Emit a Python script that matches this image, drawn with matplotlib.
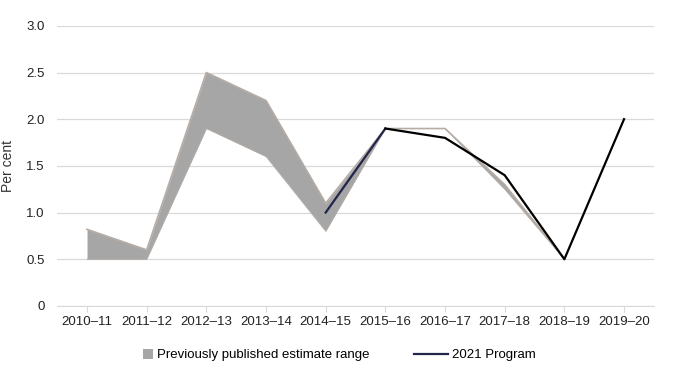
import numpy as np
import matplotlib
matplotlib.use('Agg')
import matplotlib.pyplot as plt
from matplotlib.patches import Patch, Rectangle
from matplotlib.lines import Line2D
from matplotlib.legend_handler import HandlerPatch

plt.rcParams['font.family'] = ['Liberation Sans', 'DejaVu Sans']

years = ['2010–11', '2011–12', '2012–13', '2013–14', '2014–15',
         '2015–16', '2016–17', '2017–18', '2018–19', '2019–20']
range_low = [0.5, 0.5, 1.9, 1.6, 0.8, 1.9, 1.9, 1.25, 0.5, np.nan]
range_high = [0.82, 0.6, 2.5, 2.2, 1.1, 1.9, 1.9, 1.3, 0.5, np.nan]
program = [np.nan, np.nan, np.nan, np.nan, 1.0, 1.9, 1.8, 1.4, 0.5, 2.0]

x = np.arange(len(years))
band = '#a6a6a6'
navy = '#22264a'


class SmallSquare(HandlerPatch):
    # small square sitting at the right end of the handle box
    def create_artists(self, legend, orig_handle, xdescent, ydescent,
                       width, height, fontsize, trans):
        s = 7
        r = Rectangle((width - xdescent - s, height / 2 - ydescent - s / 2), s, s,
                      facecolor=orig_handle.get_facecolor(), edgecolor='none',
                      transform=trans)
        return [r]


fig = plt.figure(figsize=(6.89, 3.80), dpi=100)
ax = fig.add_axes([0.083, 0.195, 0.866, 0.737])

ax.fill_between(x, range_low, range_high, color=band, lw=0)
ax.plot(x, range_high, color='#b5aca6', lw=1.2)
ax.plot(x, range_low, color='#b5aca6', lw=0.6)
ax.plot(x[4:6], program[4:6], color=navy, lw=1.6)
ax.plot(x[5:], program[5:], color='black', lw=1.6)

ax.set_xlim(-0.5, len(years) - 0.5)
ax.set_ylim(0, 3)
ax.set_yticks([0, 0.5, 1.0, 1.5, 2.0, 2.5, 3.0])
ax.set_yticklabels(['0', '0.5', '1.0', '1.5', '2.0', '2.5', '3.0'])
ax.set_xticks(x)
ax.set_xticklabels(years)
ax.yaxis.grid(True, color='#d9d9d9', lw=0.9)
ax.set_axisbelow(True)
for s in ['top', 'right', 'left']:
    ax.spines[s].set_visible(False)
ax.spines['bottom'].set_color('#d9d9d9')
ax.tick_params(axis='y', length=0, labelsize=9.5, colors='#222222', pad=9)
ax.tick_params(axis='x', length=4, color='#d9d9d9', labelsize=9.5, colors='#222222', pad=3)
ax.set_ylabel('Per cent', fontsize=10, color='#333333')
ax.yaxis.set_label_coords(-0.07, 0.5)

handles = [Patch(facecolor=band, edgecolor='none'),
           Line2D([0], [0], color=navy, lw=1.6)]
fig.legend(handles, ['Previously published estimate range', '2021 Program'],
           loc='center', bbox_to_anchor=(0.475, 0.065), ncol=2, frameon=False,
           fontsize=9.5, handlelength=2.6, handleheight=0.7, columnspacing=3.4,
           handletextpad=0.3, handler_map={Patch: SmallSquare()})

fig.savefig('out.png', dpi=100)
